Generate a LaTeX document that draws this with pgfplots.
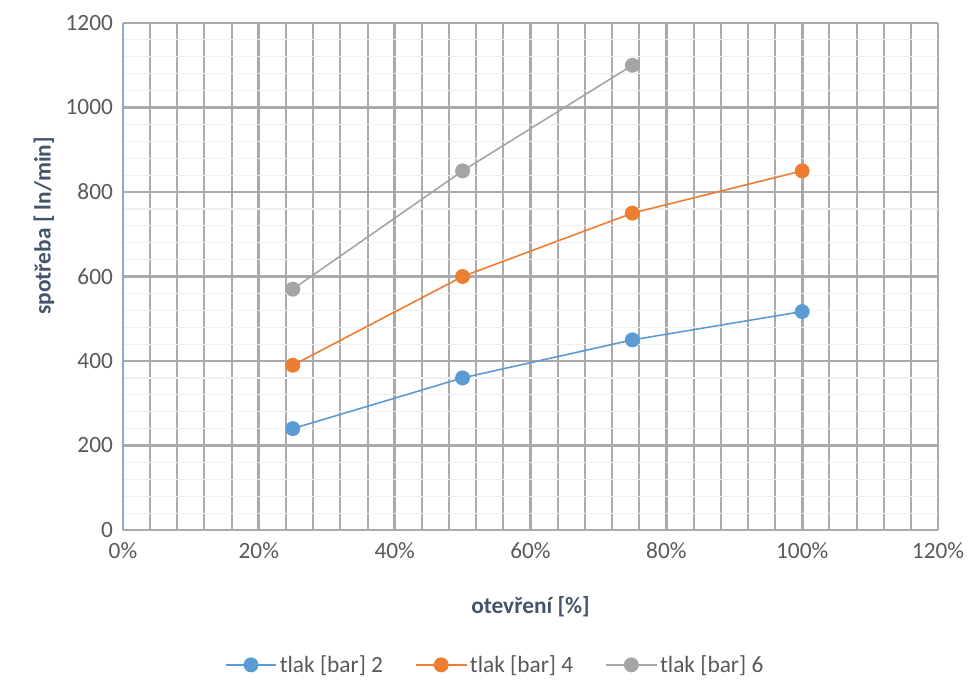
\documentclass[border=0pt]{standalone}
\usepackage{pgfplots}
\pgfplotsset{compat=1.18}
\usepackage{fontspec}
\setmainfont{Carlito}
\definecolor{ser1}{HTML}{5B9BD5}
\definecolor{ser2}{HTML}{ED7D31}
\definecolor{ser3}{HTML}{A5A5A5}
\definecolor{txt}{HTML}{595959}
\definecolor{lbl}{HTML}{44546A}
\definecolor{majgrid}{HTML}{ABA9A9}
\definecolor{mingrid}{HTML}{ACAAAA}
\definecolor{yaxis}{HTML}{8EA9C8}
\begin{document}
\begin{tikzpicture}[x=0.75pt,y=0.75pt]
\useasboundingbox (-123,-149) rectangle (845,530);
\begin{axis}[
  at={(0,0)}, anchor=south west,
  width=611.25pt, height=380.25pt, scale only axis,
  xmin=0, xmax=1.2, ymin=0, ymax=1200,
  xtick={0,0.2,...,1.2}, ytick={0,200,...,1200},
  xticklabels={0\%,20\%,40\%,60\%,80\%,100\%,120\%},
  /pgf/number format/1000 sep={},
  minor x tick num=4, minor y tick num=4,
  grid=both,
  major grid style={majgrid, line width=2.2pt},
  minor x grid style={mingrid, line width=1.5pt},
  minor y grid style={black!6, line width=0.9pt},
  major tick length=0pt, minor tick length=0pt,
  axis x line*=bottom, axis y line*=left,
  x axis line style={majgrid, line width=2.2pt, -},
  y axis line style={yaxis, line width=1pt, -},
  tick label style={font=\fontsize{17.5}{19}\selectfont, text=txt},
  xticklabel style={yshift=-6pt},
  yticklabel style={xshift=-4pt},
  /pgf/number format/assume math mode=true,
  xlabel={otevření [\%]},
  ylabel={spotřeba [ ln/min]},
  label style={font=\bfseries\fontsize{17.5}{19}\selectfont, text=lbl},
  xlabel style={at={(rel axis cs:0.5,0)}, anchor=north, yshift=-46pt},
  ylabel style={at={(rel axis cs:0,0.6)}, anchor=south, yshift=48pt},
  legend columns=3,
  legend style={at={(0.457,-0.266)}, anchor=center, draw=none, fill=none,
    font=\fontsize{17.5}{19}\selectfont, text=txt,
    /tikz/every even column/.append style={column sep=22pt}},
  legend image code/.code={\draw[mark repeat=2,mark phase=2] plot coordinates {(0pt,0pt) (19pt,0pt) (38pt,0pt)};},
  every axis plot/.append style={line width=1.2pt, mark=*, mark size=5pt},
]
\addplot[color=ser1, mark options={fill=ser1, draw=ser1}] coordinates {(0.25,240) (0.5,360) (0.75,450) (1.0,517)};
\addplot[color=ser2, mark options={fill=ser2, draw=ser2}] coordinates {(0.25,390) (0.5,600) (0.75,750) (1.0,850)};
\addplot[color=ser3, mark options={fill=ser3, draw=ser3}] coordinates {(0.25,570) (0.5,850) (0.75,1100)};
\legend{tlak [bar] 2, tlak [bar] 4, tlak [bar] 6}
\end{axis}
\end{tikzpicture}
\end{document}
